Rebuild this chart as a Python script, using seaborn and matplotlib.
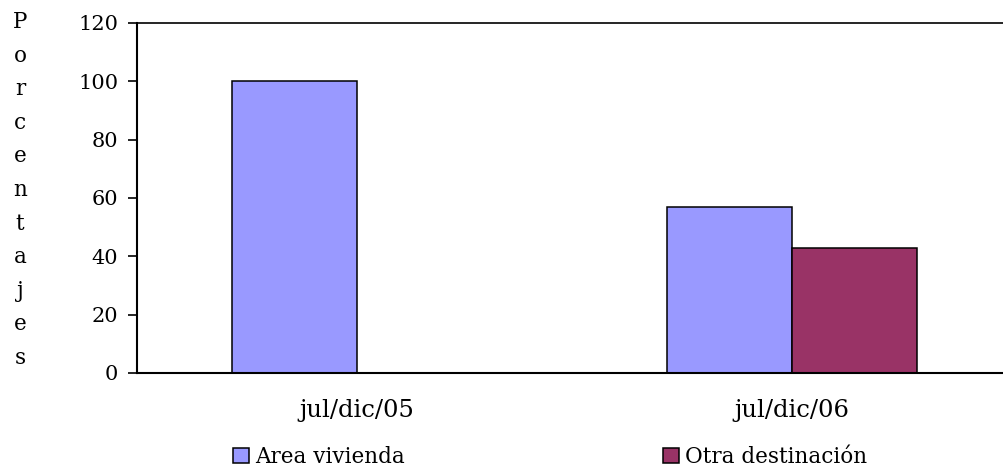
import numpy as np
import pandas as pd
import seaborn as sns
import matplotlib.pyplot as plt
from matplotlib.patches import Patch

# --- datos ---
periodos = ['jul/dic/05', 'jul/dic/06']
destinos = ['Area vivienda', 'Otra destinación']
area_vivienda = [100, 57]
otra_destinacion = [0, 43]
colores = ['#9999FF', '#993366']
yticks = [0, 20, 40, 60, 80, 100, 120]

df = pd.DataFrame({
    'periodo': periodos * 2,
    'destino': [destinos[0]] * 2 + [destinos[1]] * 2,
    'valor': area_vivienda + otra_destinacion,
})

sns.set_theme(style='white')
plt.rcParams['font.family'] = ['DejaVu Serif']
plt.rcParams['text.color'] = 'black'
plt.rcParams['xtick.color'] = 'black'
plt.rcParams['ytick.color'] = 'black'

fig = plt.figure(figsize=(10.04, 4.70), dpi=100)
ax = fig.add_axes([0.1365, 0.2064, 0.8635, 0.7447])

sns.barplot(data=df, x='periodo', y='valor', hue='destino', hue_order=destinos,
            palette=colores, width=0.575, edgecolor='black', linewidth=1.1,
            saturation=1, legend=False, ax=ax)

ax.set_xlim(-0.506, 1.487)
ax.set_ylim(0, 120)
ax.set_yticks(yticks)
ax.set_yticklabels([str(v) for v in yticks], fontsize=15)
ax.tick_params(axis='y', direction='out', length=6.5, width=1.2, color='black',
               labelcolor='black', left=True, pad=7)
ax.tick_params(axis='x', length=0, pad=19, labelcolor='black')
ax.set_xticks(range(len(periodos)))
ax.set_xticklabels(periodos, fontsize=17.5)
ax.set_xlabel('')
ax.set_ylabel('')

for side in ['left', 'bottom']:
    ax.spines[side].set_linewidth(1.5)
    ax.spines[side].set_color('black')
ax.spines['top'].set_linewidth(1.2)
ax.spines['top'].set_color('black')
ax.spines['right'].set_visible(False)

# etiqueta vertical letra por letra
fig.text(20 / 1004, 1 - 190 / 470, '\n'.join('Porcentajes'), ha='center', va='center',
         fontsize=15.5, linespacing=1.68, color='black')

handles = [Patch(facecolor=c, edgecolor='black', linewidth=1.1) for c in colores]
fig.legend(handles, destinos, loc='center left', bbox_to_anchor=(233 / 1004, 1 - 457 / 470),
           ncol=2, frameon=False, prop={'size': 15.5}, labelcolor='black',
           handlelength=0.75, handleheight=0.75, handletextpad=0.28,
           columnspacing=12.0, borderpad=0, borderaxespad=0)

fig.savefig('out.png', dpi=100)
